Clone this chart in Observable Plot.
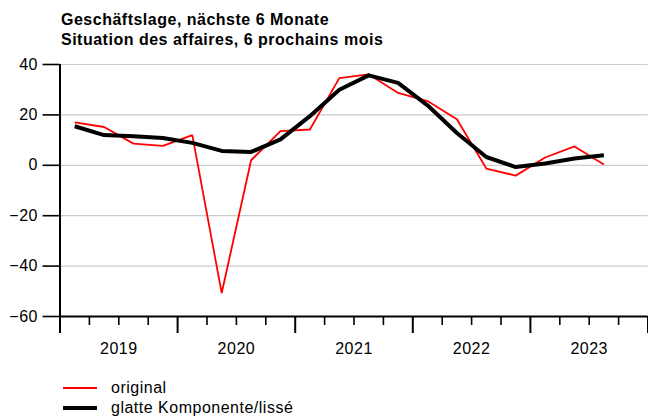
<!DOCTYPE html>
<html>
<head>
<meta charset="utf-8">
<script src="https://cdn.jsdelivr.net/npm/d3@7"></script>
<script src="https://cdn.jsdelivr.net/npm/@observablehq/plot@0.6"></script>
<style>
  html, body { margin: 0; padding: 0; background: #fff; }
  body { width: 648px; height: 416px; position: relative; overflow: hidden; font-family: "Liberation Sans", Arial, sans-serif; color: #000; }
  #title { position: absolute; left: 61px; top: 10px; font-weight: bold; font-size: 16px; letter-spacing: 0.5px; line-height: 19.5px; white-space: nowrap; }
  #chart { position: absolute; left: 0; top: 50px; }
  #legend { position: absolute; left: 63px; top: 378px; font-size: 16px; letter-spacing: 0.5px; }
  .row { display: flex; align-items: center; height: 20px; white-space: nowrap; }
  .row svg { margin-right: 14px; }
</style>
</head>
<body>
<div id="title">Geschäftslage, nächste 6 Monate<br>Situation des affaires, 6 prochains mois</div>
<div id="chart"></div>
<div id="legend"></div>
<script>
const periods = ["2019-Q1","2019-Q2","2019-Q3","2019-Q4","2020-Q1","2020-Q2","2020-Q3","2020-Q4",
  "2021-Q1","2021-Q2","2021-Q3","2021-Q4","2022-Q1","2022-Q2","2022-Q3","2022-Q4",
  "2023-Q1","2023-Q2","2023-Q3"];
const original = [17.0, 15.2, 8.6, 7.7, 12.0, -50.7, 2.0, 13.6, 14.2, 34.6, 36.1, 28.7,
  25.5, 18.3, -1.3, -4.1, 3.1, 7.5, 0.3];
const smooth = [15.5, 12.0, 11.5, 10.8, 8.9, 5.7, 5.3, 10.3, 19.5, 30.0, 35.7, 32.7,
  23.8, 12.8, 3.3, -0.7, 0.7, 2.7, 4.0];
const yTicks = [-60, -40, -20, 0, 20, 40];
const yearLabels = ["2019", "2020", "2021", "2022", "2023"];
const seriesNames = ["original", "glatte Komponente/lissé"];
const seriesColors = ["#ff0000", "#000000"];
const seriesWidths = [1.8, 4];

const toX = p => { const [y, q] = p.split("-Q"); return +y + (+q - 0.5) / 4; };
const data = periods.map((p, i) => ({x: toX(p), original: original[i], smooth: smooth[i]}));
const firstYear = +yearLabels[0];
const lastYear = +yearLabels[yearLabels.length - 1] + 1;
const yearTicks = d3.range(firstYear, lastYear + 1);
const quarterTicks = d3.range(firstYear, lastYear, 0.25).filter(v => v % 1 !== 0);
const labelPos = yearLabels.map(y => +y + 0.5);
const fmtY = d => d < 0 ? "\u2212" + Math.abs(d) : String(d);

const chart = Plot.plot({
  width: 648,
  height: 316,
  marginTop: 14,
  marginBottom: 50,
  marginLeft: 59.5,
  marginRight: 0.5,
  style: {fontFamily: '"Liberation Sans", Arial, sans-serif', fontSize: "16px", letterSpacing: "0.5px", color: "#000", background: "#fff", overflow: "visible"},
  x: {domain: [firstYear, lastYear]},
  y: {domain: [yTicks[0], yTicks[yTicks.length - 1]]},
  marks: [
    Plot.ruleY(yTicks.slice(1), {stroke: "#cccccc", strokeWidth: 1.2}),
    Plot.axisY(yTicks, {label: null, tickSize: 17, tickPadding: 5, strokeWidth: 1.6, fontSize: 16, tickFormat: fmtY}),
    Plot.axisX(yearTicks, {label: null, tickSize: 17, strokeWidth: 2, tickFormat: () => ""}),
    Plot.axisX(quarterTicks, {label: null, tickSize: 9, strokeWidth: 1.6, tickFormat: () => ""}),
    Plot.axisX(labelPos, {label: null, tickSize: 0, tickPadding: 26, fontSize: 16, tickFormat: d => String(Math.floor(d))}),
    Plot.ruleY([yTicks[0]], {stroke: "#000", strokeWidth: 2}),
    Plot.ruleX([firstYear], {y1: yTicks[0], y2: yTicks[yTicks.length - 1], stroke: "#000", strokeWidth: 2}),
    Plot.line(data, {x: "x", y: "original", stroke: seriesColors[0], strokeWidth: seriesWidths[0], strokeLinejoin: "miter", strokeLinecap: "butt"}),
    Plot.line(data, {x: "x", y: "smooth", stroke: seriesColors[1], strokeWidth: seriesWidths[1], strokeLinejoin: "round", strokeLinecap: "butt"})
  ]
});
document.getElementById("chart").appendChild(chart);

const legend = document.getElementById("legend");
seriesNames.forEach((name, i) => {
  const row = document.createElement("div");
  row.className = "row";
  row.innerHTML = `<svg width="34" height="8"><line x1="0" x2="34" y1="4" y2="4" stroke="${seriesColors[i]}" stroke-width="${seriesWidths[i]}" stroke-linecap="${i ? "round" : "butt"}"/></svg><span>${name}</span>`;
  legend.appendChild(row);
});
</script>
</body>
</html>
